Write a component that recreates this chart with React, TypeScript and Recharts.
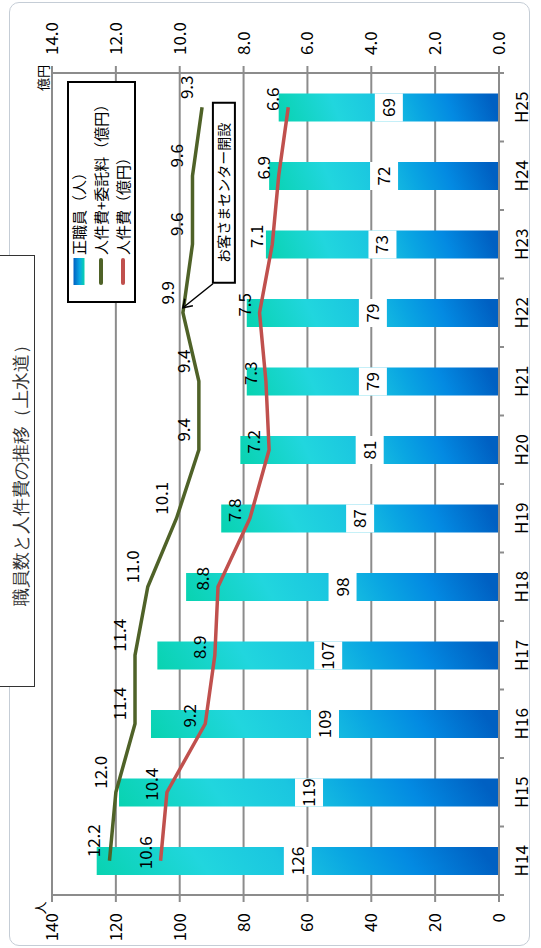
import React from "react";
import { ComposedChart, Bar, Line, XAxis, YAxis, CartesianGrid, LabelList, ReferenceDot } from "recharts";

const years = ["H14", "H15", "H16", "H17", "H18", "H19", "H20", "H21", "H22", "H23", "H24", "H25"];
const staffCount = [126, 119, 109, 107, 98, 87, 81, 79, 79, 73, 72, 69];
const costWithOutsourcing = [12.2, 12.0, 11.4, 11.4, 11.0, 10.1, 9.4, 9.4, 9.9, 9.6, 9.6, 9.3];
const personnelCost = [10.6, 10.4, 9.2, 8.9, 8.8, 7.8, 7.2, 7.3, 7.5, 7.1, 6.9, 6.6];
const staffTicks = [0, 20, 40, 60, 80, 100, 120, 140];
const costTicks = [0, 2, 4, 6, 8, 10, 12, 14];

const data = years.map((year, i) => ({
  year,
  staff: staffCount[i],
  total: costWithOutsourcing[i],
  personnel: personnelCost[i],
}));

const FONT = "'Noto Sans CJK JP', 'Noto Sans', sans-serif";
const GRID = "#8c8c8c";
const GREEN = "#4f6228";
const RED = "#c0504d";

// chart is laid out landscape and then turned a quarter to the left
const W = 948;
const H = 541;
const CAT_MARGIN = 17;

const CategoryTick = (props: any) => {
  const { x, y, payload, index } = props;
  const half = payload.offset || 0;
  const axisY = y - CAT_MARGIN;
  return (
    <g>
      <line x1={x - half} x2={x - half} y1={axisY} y2={axisY + 5} stroke={GRID} strokeWidth={2} />
      {index === years.length - 1 && (
        <line x1={x + half} x2={x + half} y1={axisY} y2={axisY + 5} stroke={GRID} strokeWidth={2} />
      )}
      <text x={x} y={y} dy="0.71em" textAnchor="middle" fontSize={17} fill="#000" fontFamily={FONT}>
        {payload.value}
      </text>
    </g>
  );
};

const staffLabel = (props: any) => {
  const { x, y, width, height, value } = props;
  const cx = x + width / 2;
  const cy = y + height / 2;
  return (
    <g>
      <rect x={cx - width / 2} y={cy - 14} width={width} height={28} fill="#fff" />
      <text x={cx} y={cy + 6} textAnchor="middle" fontSize={17} fill="#000" fontFamily={FONT}>
        {value}
      </text>
    </g>
  );
};

const costLabel = (dx: number) => (props: any) => {
  const { x, y, value } = props;
  return (
    <text x={x + dx} y={y - 9} textAnchor="middle" fontSize={17} fill="#000" fontFamily={FONT}>
      {Number(value).toFixed(1)}
    </text>
  );
};

// お客さまセンター開設 callout, anchored on the H22 point
const Callout = (props: any) => {
  const { cx, cy } = props;
  const tipX = cx + 5;
  const tipY = cy;
  return (
    <g>
      <line x1={cx + 29} y1={cy + 30} x2={tipX} y2={tipY} stroke="#000" strokeWidth={1.5} />
      <polyline
        points={`${tipX + 9},${tipY + 2} ${tipX},${tipY} ${tipX + 2},${tipY + 10}`}
        fill="none"
        stroke="#000"
        strokeWidth={1.5}
      />
      <rect x={cx + 30} y={cy + 30} width={180} height={22} fill="#fff" stroke="#000" strokeWidth={2} />
      <text x={cx + 120} y={cy + 46} textAnchor="middle" fontSize={14} fill="#000" fontFamily={FONT}>
        お客さまセンター開設
      </text>
    </g>
  );
};

const legendRows = [
  { label: "正職員（人）", kind: "bar", color: "" },
  { label: "人件費+委託料（億円）", kind: "line", color: GREEN },
  { label: "人件費（億円）", kind: "line", color: RED },
];

export default function App() {
  return (
    <div style={{ position: "fixed", left: 0, top: 0, width: 541, height: 948, overflow: "hidden", background: "#fff" }}>
      <div
        style={{
          position: "absolute",
          left: 0,
          top: 0,
          width: W,
          height: H,
          transformOrigin: "0 0",
          transform: `translate(0px, ${W}px) rotate(-90deg)`,
          fontFamily: FONT,
        }}
      >
        <div
          style={{
            position: "absolute",
            left: 2,
            top: 9,
            width: 944,
            height: 521,
            border: "1.5px solid #c5cdd6",
            borderRadius: 10,
            boxSizing: "border-box",
          }}
        />

        <ComposedChart
          width={W}
          height={H}
          data={data}
          margin={{ top: 52, right: 0, bottom: 0, left: 0 }}
          barCategoryGap="30%"
        >
          <defs>
            <linearGradient id="staffGrad" x1="0" y1="0" x2="0.05" y2="1">
              <stop offset="0%" stopColor="#08d3b0" />
              <stop offset="28%" stopColor="#21d6de" />
              <stop offset="48%" stopColor="#1bc6e0" />
              <stop offset="65%" stopColor="#0aa6e2" />
              <stop offset="80%" stopColor="#038ae2" />
              <stop offset="100%" stopColor="#0060c2" />
            </linearGradient>
          </defs>
          <CartesianGrid yAxisId="left" vertical={false} stroke={GRID} strokeWidth={2} />
          <XAxis
            dataKey="year"
            height={42}
            axisLine={{ stroke: GRID, strokeWidth: 2 }}
            tickLine={false}
            tickSize={0}
            tickMargin={CAT_MARGIN}
            tick={<CategoryTick />}
            interval={0}
          />
          <YAxis
            yAxisId="left"
            domain={[0, 140]}
            ticks={staffTicks}
            width={53}
            tickSize={7}
            tickMargin={11}
            axisLine={{ stroke: GRID, strokeWidth: 2 }}
            tickLine={{ stroke: GRID, strokeWidth: 2 }}
            tick={{ fontSize: 17, fill: "#000", fontFamily: FONT }}
            interval={0}
          />
          <YAxis
            yAxisId="right"
            orientation="right"
            domain={[0, 14]}
            ticks={costTicks}
            width={73}
            tickSize={7}
            tickMargin={11}
            tickFormatter={(v: number) => v.toFixed(1)}
            axisLine={{ stroke: GRID, strokeWidth: 2 }}
            tickLine={{ stroke: GRID, strokeWidth: 2 }}
            tick={{ fontSize: 17, fill: "#000", fontFamily: FONT }}
            interval={0}
          />
          <Bar yAxisId="left" dataKey="staff" fill="url(#staffGrad)" barSize={28} isAnimationActive={false}>
            <LabelList dataKey="staff" content={staffLabel} />
          </Bar>
          <Line
            yAxisId="right"
            type="linear"
            dataKey="total"
            stroke={GREEN}
            strokeWidth={3.5}
            dot={false}
            isAnimationActive={false}
          >
            <LabelList dataKey="total" content={costLabel(20)} />
          </Line>
          <Line
            yAxisId="right"
            type="linear"
            dataKey="personnel"
            stroke={RED}
            strokeWidth={3.5}
            dot={false}
            isAnimationActive={false}
          >
            <LabelList dataKey="personnel" content={costLabel(8)} />
          </Line>
          <ReferenceDot yAxisId="right" x="H22" y={9.9} shape={<Callout />} />
        </ComposedChart>

        {/* unit labels */}
        <div style={{ position: "absolute", left: 870, top: 42, transform: "translate(-50%, -50%)", fontSize: 13, color: "#000", whiteSpace: "nowrap" }}>
          億円
        </div>
        <div style={{ position: "absolute", left: 40, top: 39, transform: "translate(-50%, -50%)", fontSize: 13, color: "#000" }}>
          人
        </div>

        {/* legend */}
        <div
          style={{
            position: "absolute",
            left: 645,
            top: 67,
            width: 222,
            height: 69,
            border: "2px solid #000",
            background: "#fff",
            boxSizing: "border-box",
          }}
        >
          {legendRows.map((row, i) => (
            <div
              key={row.label}
              style={{
                position: "absolute",
                left: 16,
                top: [9.5, 32, 53.5][i] - 9,
                height: 18,
                display: "flex",
                alignItems: "center",
                whiteSpace: "nowrap",
                fontSize: 15,
                lineHeight: "18px",
                color: "#000",
              }}
            >
              <svg width={28} height={12} style={{ marginRight: 2 }}>
                {row.kind === "bar" ? (
                  <rect x={0} y={0.5} width={27} height={11} fill="url(#legendGrad)" />
                ) : (
                  <line x1={2} x2={25} y1={6} y2={6} stroke={row.color} strokeWidth={4} strokeLinecap="round" />
                )}
                <defs>
                  <linearGradient id="legendGrad" x1="0" y1="0" x2="0" y2="1">
                    <stop offset="0%" stopColor="#0060c2" />
                    <stop offset="55%" stopColor="#0aa6e2" />
                    <stop offset="100%" stopColor="#08d3b0" />
                  </linearGradient>
                </defs>
              </svg>
              {row.label}
            </div>
          ))}
        </div>

        {/* title box */}
        <div
          style={{
            position: "absolute",
            left: 261,
            top: -20,
            width: 432,
            height: 55,
            border: "1px solid #333",
            background: "#fff",
            boxSizing: "border-box",
          }}
        />
        <div
          style={{
            position: "absolute",
            left: 477,
            top: 21,
            transform: "translate(-50%, -50%)",
            fontSize: 18,
            color: "#333",
            whiteSpace: "nowrap",
            fontFamily: "serif",
          }}
        >
          職員数と人件費の推移（上水道）
        </div>
      </div>
    </div>
  );
}
